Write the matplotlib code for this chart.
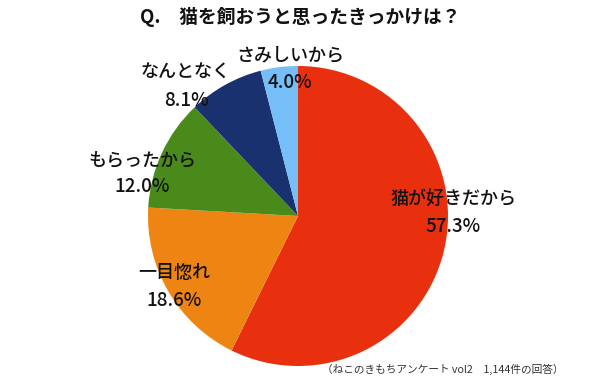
import matplotlib
matplotlib.use('Agg')
import matplotlib.pyplot as plt

plt.rcParams['font.family'] = ['Noto Sans CJK JP', 'DejaVu Sans']

# data (clockwise from 12 o'clock)
labels = ['猫が好きだから', '一目惚れ', 'もらったから', 'なんとなく', 'さみしいから']
values = [57.3, 18.6, 12.0, 8.1, 4.0]
colors = ['#E8300F', '#EE8513', '#4A8A1B', '#19326F', '#75BEF8']

# label centres in pixel coords of the reference (x, y from top)
label_px = [(453, 213), (174, 286), (142, 173), (186, 86), (290, 68)]

fig = plt.figure(figsize=(6, 3.79), dpi=100)
W, H = 600, 379
cx, cy, r = 298, 216, 150
ax = fig.add_axes([(cx - r) / W, (H - cy - r) / H, 2 * r / W, 2 * r / H])
ax.pie(values, colors=colors, startangle=90, counterclock=False,
       radius=1, wedgeprops=dict(linewidth=0))
ax.set_xlim(-1, 1)
ax.set_ylim(-1, 1)
ax.set_aspect('equal')
ax.axis('off')

for lab, v, (px, py) in zip(labels, values, label_px):
    x = (px - cx) / r
    ax.text(x, (cy - (py - 13)) / r, lab, ha='center', va='center',
            fontsize=13, fontweight='medium', color='#111111', clip_on=False)
    ax.text(x, (cy - (py + 14)) / r, '%.1f%%' % v, ha='center', va='center',
            fontsize=13.5, fontweight='medium', color='#111111', clip_on=False)

fig.text(300 / W, 1 - 17 / H, 'Q.　猫を飼おうと思ったきっかけは？', ha='center', va='center',
         fontsize=13.5, fontweight='bold', color='#111111')
fig.text(443 / W, 1 - 369 / H, '（ねこのきもちアンケート vol2　1,144件の回答）', ha='center', va='center',
         fontsize=7.7, color='#333333')

fig.savefig('out.png', dpi=100)
